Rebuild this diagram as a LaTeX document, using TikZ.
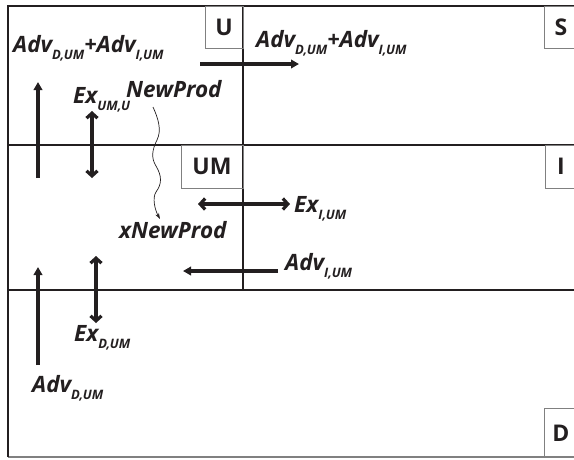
\documentclass[tikz,border=0pt]{standalone}
\usepackage{fontspec}
\setmainfont{Open Sans}
\usetikzlibrary{arrows.meta}
\definecolor{ink}{HTML}{231F20}
\newcommand\sbs[1]{\raisebox{-7pt}{\fontsize{13}{13}\selectfont\bfseries\itshape #1}}
\begin{document}
\begin{tikzpicture}[x=1pt,y=-1pt,
  frame/.style={line width=2.2pt,draw=ink},
  tagbox/.style={draw=gray,line width=0.9pt},
  tag/.style={text=ink,font=\fontsize{23}{23}\selectfont\bfseries},
  lbl/.style={anchor=base west,inner sep=0pt,text=ink,font=\fontsize{22.5}{22.5}\selectfont\bfseries\itshape},
  flow/.style={line width=3.2pt,draw=ink,-{Triangle[length=8pt,width=8.5pt]}},
  ex/.style={line width=3.2pt,draw=ink,{Straight Barb[length=5pt,width=11pt]}-{Straight Barb[length=5pt,width=11pt]}},
  wave/.style={line width=0.7pt,draw=ink,-{Stealth[length=6pt,width=4pt]}}]
\useasboundingbox (0,0) rectangle (574,459);
% frames
\draw[line width=1.2pt,draw=gray] (8,457) -- (574,457);
\draw[frame] (8,457) -- (8,6) -- (574,6);
\draw[frame] (8,145) -- (574,145);
\draw[frame] (8,290) -- (574,290);
\draw[frame] (243,6) -- (243,290);
% tag boxes
\draw[tagbox] (205,6) rectangle (243,48);
\node[tag] (tU) at (224,27) {U};
\draw[tagbox] (544,6) rectangle (576,48);
\node[tag] (tS) at (561,27) {S};
\draw[tagbox] (181,145) rectangle (243,188);
\node[tag] (tUM) at (212,166) {UM};
\draw[tagbox] (545,145) rectangle (576,188);
\node[tag] (tI) at (561,166) {I};
\draw[tagbox] (544,408) rectangle (576,457);
\node[tag] (tD) at (561,433) {D};
% labels
\node[lbl] (l1) at (13,52) {Adv\sbs{D,UM}+Adv\sbs{I,UM}};
\node[lbl] (l2) at (256,47) {Adv\sbs{D,UM}+Adv\sbs{I,UM}};
\node[lbl] (l3) at (73,103) {Ex\sbs{UM,U}};
\node[lbl] (l4) at (126,97) {NewProd};
\node[lbl] (l5) at (119,238) {xNewProd};
\node[lbl] (l6) at (294,212) {Ex\sbs{I,UM}};
\node[lbl] (l7) at (285,270) {Adv\sbs{I,UM}};
\node[lbl] (l8) at (74,341) {Ex\sbs{D,UM}};
\node[lbl] (l9) at (32,392) {Adv\sbs{D,UM}};
% arrow endpoints
\coordinate (a1s) at (200,64); \coordinate (a1e) at (299,64);
\coordinate (a2s) at (38,178); \coordinate (a2e) at (38,82);
\coordinate (a3s) at (92,111); \coordinate (a3e) at (92,178);
\coordinate (a4s) at (198,204); \coordinate (a4e) at (290,204);
\coordinate (a5s) at (278,271); \coordinate (a5e) at (183,271);
\coordinate (a6s) at (38,365); \coordinate (a6e) at (38,267);
\coordinate (a7s) at (96,256); \coordinate (a7e) at (96,323);
\coordinate (w0) at (153,107); \coordinate (w1) at (160,219);
\draw[flow] (a1s) -- (a1e);
\draw[flow] (a2s) -- (a2e);
\draw[ex] (a3s) -- (a3e);
\draw[ex] (a4s) -- (a4e);
\draw[flow] (a5s) -- (a5e);
\draw[flow] (a6s) -- (a6e);
\draw[ex] (a7s) -- (a7e);
\draw[wave] (w0) .. controls (158,118) and (162,130) .. (157,140)
  .. controls (152,150) and (151,158) .. (156,166)
  .. controls (162,176) and (162,184) .. (156,192)
  .. controls (152,198) and (155,210) .. (w1);
\end{tikzpicture}
\end{document}
